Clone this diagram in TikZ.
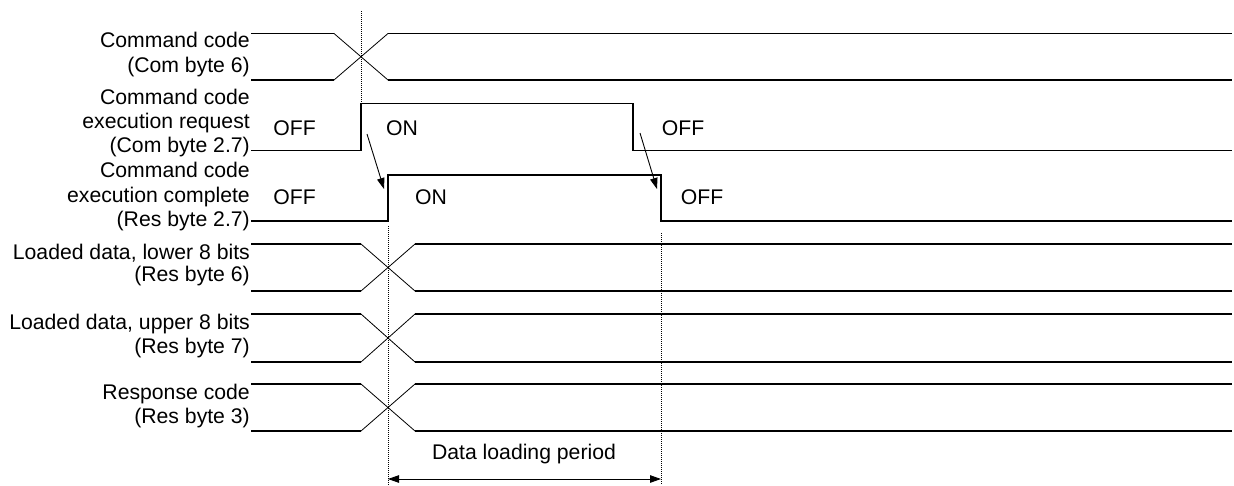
\documentclass[tikz,border=0pt]{standalone}
\usepackage{fontspec}
\setmainfont{Liberation Sans}
\usetikzlibrary{arrows.meta}
\begin{document}
\begin{tikzpicture}[x=1pt,y=-1pt,
  sig/.style={line width=1.9pt, line join=miter},
  xing/.style={line width=0.8pt},
  guide/.style={line width=0.6pt, dash pattern=on 1pt off 1pt},
  lbl/.style={anchor=base east, inner sep=0pt, font=\fontsize{21.2}{25}\selectfont},
  st/.style={anchor=base, inner sep=0pt, font=\fontsize{21.2}{25}\selectfont},
  cause/.style={line width=0.9pt, -{Triangle[length=11pt,width=7.5pt]}},
  span/.style={line width=0.9pt, {Triangle[length=11pt,width=7.5pt]}-{Triangle[length=11pt,width=7.5pt]}},
]
\useasboundingbox (0,0) rectangle (1234,485);

% guide lines
\draw[guide] (361,11) -- (361,103);
\draw[guide] (388,226) -- (388,485);
\draw[guide] (661,233) -- (661,485);

% bus rows
\foreach \t/\b/\c in {33.5/80/361, 244/291/388, 314/362/388, 384/431/388} {
  \draw[sig] (251,\t) -- (\c-27,\t);
  \draw[sig] (251,\b) -- (\c-27,\b);
  \draw[xing] (\c-27,\t) -- (\c+27,\b);
  \draw[xing] (\c-27,\b) -- (\c+27,\t);
  \draw[sig] (\c+27,\t) -- (1232,\t);
  \draw[sig] (\c+27,\b) -- (1232,\b);
}

% execution request / complete
\draw[sig] (251,150.5) -- (361,150.5) -- (361,103.5) -- (633,103.5) -- (633,150.5) -- (1232,150.5);
\draw[sig] (251,221) -- (388,221) -- (388,175) -- (661,175) -- (661,221) -- (1232,221);

% labels
\node[lbl] (c1a) at (250,47) {Command code};
\node[lbl] (c1b) at (250,72) {(Com byte 6)};
\node[lbl] (c2a) at (250,104) {Command code};
\node[lbl] (c2b) at (250,128) {execution request};
\node[lbl] (c2c) at (250,152) {(Com byte 2.7)};
\node[lbl] (c3a) at (250,177) {Command code};
\node[lbl] (c3b) at (250,202) {execution complete};
\node[lbl] (c3c) at (250,226) {(Res byte 2.7)};
\node[lbl] (c4a) at (250,259) {Loaded data, lower 8 bits};
\node[lbl] (c4b) at (250,281) {(Res byte 6)};
\node[lbl] (c5a) at (250,329) {Loaded data, upper 8 bits};
\node[lbl] (c5b) at (250,353) {(Res byte 7)};
\node[lbl] (c6a) at (250,399) {Response code};
\node[lbl] (c6b) at (250,423) {(Res byte 3)};

% state labels
\node[st] (s1) at (294.5,135) {OFF};
\node[st] (s2) at (402,135) {ON};
\node[st] (s3) at (683,135) {OFF};
\node[st] (s4) at (294.5,204) {OFF};
\node[st] (s5) at (431,204) {ON};
\node[st] (s6) at (702,204) {OFF};
\node[st] (dlp) at (524,459) {Data loading period};

% cause arrows
\coordinate (a1s) at (367,134);
\coordinate (a1e) at (384,189);
\coordinate (a2s) at (640,133);
\coordinate (a2e) at (657,189);
\draw[cause] (a1s) -- (a1e);
\draw[cause] (a2s) -- (a2e);

% period arrow
\coordinate (p1) at (388,479);
\coordinate (p2) at (661,479);
\draw[span] (p1) -- (p2);
\end{tikzpicture}
\end{document}
